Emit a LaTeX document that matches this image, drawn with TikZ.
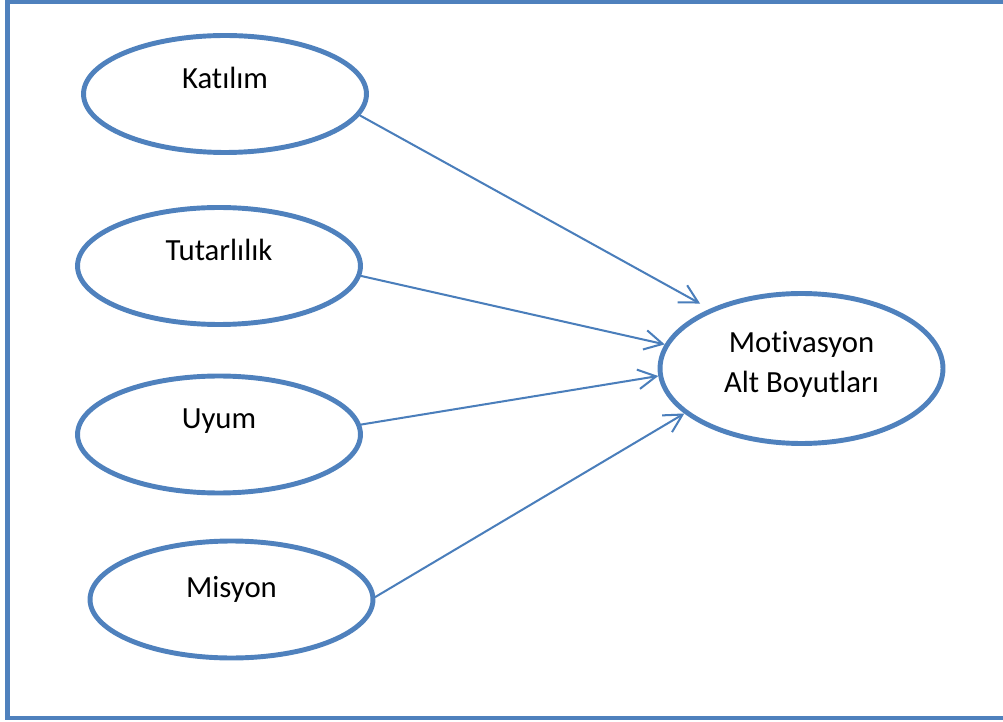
\documentclass[tikz,border=0pt]{standalone}
\usepackage{fontspec}
\setmainfont{Carlito}[Ligatures=NoCommon]
\usetikzlibrary{shapes.geometric,arrows.meta}
\definecolor{wordblue}{RGB}{79,129,189}
\definecolor{linkblue}{RGB}{74,126,187}
\tikzset{
  oval/.style={ellipse, draw=wordblue, line width=2.8pt, minimum width=5.66cm, minimum height=2.34cm, inner sep=0pt},
  link/.style={->, draw=linkblue, line width=1.15pt}
}
\begin{document}
\begin{tikzpicture}[x=0.02cm, y=-0.02cm, font=\fontsize{17.5}{22.7}\selectfont, line join=round, line cap=round, >={Straight Barb[length=3.6mm,width=3.9mm]}]
  \useasboundingbox (0,0) rectangle (1003,722);
  \clip (0,0) rectangle (1003,722);
  % outer frame
  \draw[wordblue, line width=2.8pt, line join=miter] (7.5,2) rectangle (1010,718);
  % the four dimensions
  \foreach \n/\xc/\yc/\yb/\t in {kat/225/94/89/Katılım, tut/219/266/261/Tutarlılık, uyum/219/434.5/428/Uyum, mis/231.5/599.5/597/Misyon}{
    \node[oval] (\n) at (\xc,\yc) {};
    \node[anchor=base] (\n-txt) at (\xc,\yb) {\t};
  }
  \node[oval, minimum height=3cm] (mot) at (801.5,368.5) {};
  \node[align=center] (mot-txt) at (801.5,364) {Motivasyon\\Alt Boyutları};
  % links
  \draw[link, shorten >=2.2mm] (kat.-9) -- (mot.147.5);
  \draw[link] (tut.-4) -- (mot.170);
  \draw[link] (uyum.4) -- (mot.183);
  \draw[link] (mis.1) -- (mot.201);
\end{tikzpicture}
\end{document}
